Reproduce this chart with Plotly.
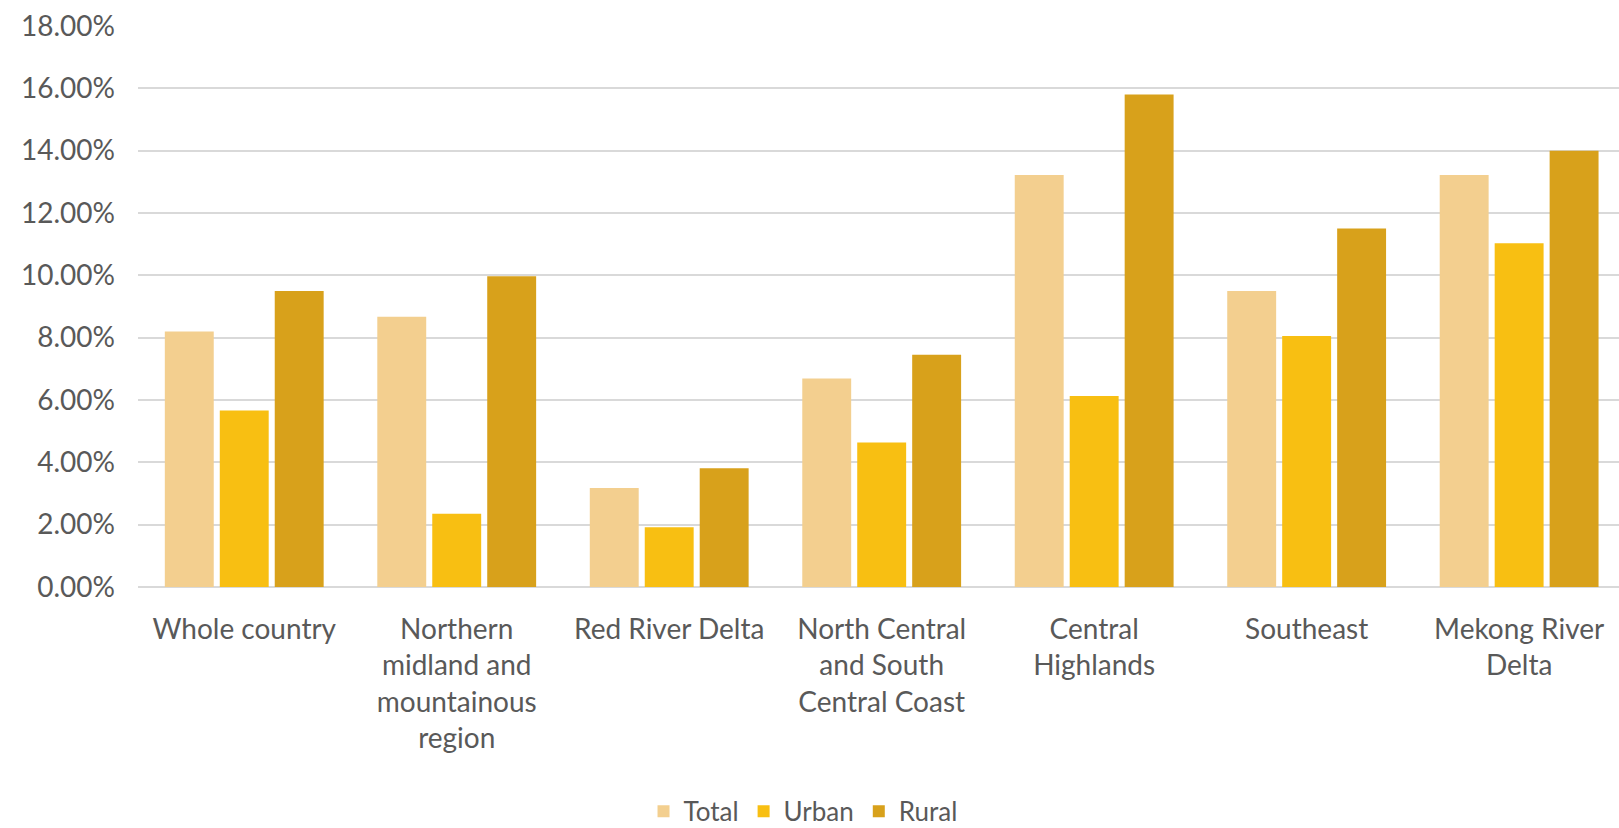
import plotly.graph_objects as go

categories = ["Whole country", "Northern<br>midland and<br>mountainous<br>region", "Red River Delta",
              "North Central<br>and South<br>Central Coast", "Central<br>Highlands", "Southeast",
              "Mekong River<br>Delta"]
total = [0.0820, 0.0867, 0.0318, 0.0669, 0.1322, 0.0950, 0.1322]
urban = [0.0566, 0.0235, 0.0192, 0.0464, 0.0613, 0.0805, 0.1103]
rural = [0.0950, 0.0997, 0.0381, 0.0745, 0.1580, 0.1150, 0.1400]
series = [("Total", total, "#F3CF8F"), ("Urban", urban, "#F8BF12"), ("Rural", rural, "#D8A11B")]

xs = list(range(len(categories)))
fig = go.Figure()
for name, vals, col in series:
    fig.add_trace(go.Bar(x=xs, y=vals, name=name, marker=dict(color=col, line=dict(width=0))))

font = "Lato, 'Open Sans', sans-serif"
fig.update_layout(
    width=1619, height=828,
    margin=dict(l=138, r=0, t=26, b=241, autoexpand=False),
    paper_bgcolor="white", plot_bgcolor="white",
    barmode="group", bargap=0.224, bargroupgap=0.11,
    font=dict(family=font, color="#595959", size=26),
    legend=dict(orientation="h", xref="container", yref="container", x=0.496, xanchor="center",
                y=0.02, yanchor="middle",
                font=dict(size=26, color="#595959"), itemwidth=30, traceorder="normal"),
    xaxis=dict(tickmode="array", tickvals=xs, ticktext=categories, range=[-0.5, 6.47],
               showgrid=False, zeroline=False, showline=False, ticks="", automargin=False,
               tickfont=dict(size=28, color="#595959"), ticklabelstandoff=23),
    yaxis=dict(range=[0, 0.18], dtick=0.02, tickformat=".2%", showgrid=True, automargin=False,
               gridcolor="#D9D9D9", gridwidth=2, zeroline=True, zerolinecolor="#D9D9D9",
               zerolinewidth=2, showline=False, ticks="", ticklabelstandoff=22,
               tickfont=dict(size=28, color="#595959")),
)
fig.write_html("out.html")
